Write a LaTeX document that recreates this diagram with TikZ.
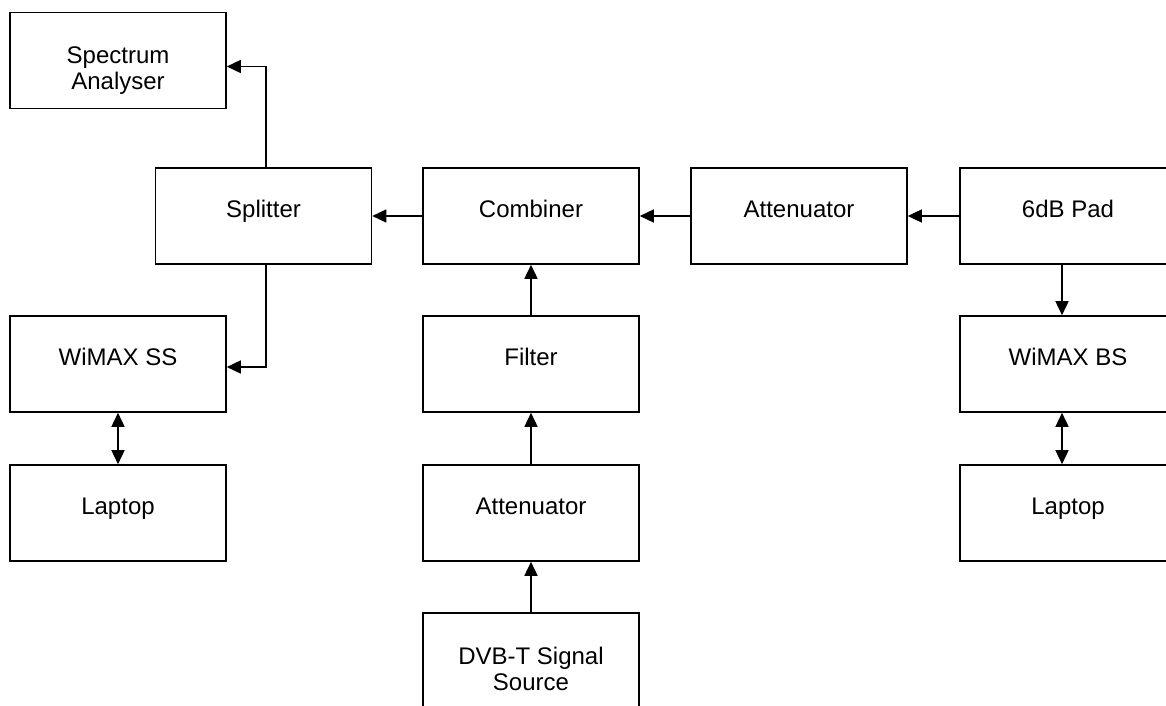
\documentclass[tikz,border=0pt]{standalone}
\usepackage{fontspec}
\setmainfont{Liberation Sans}
\usetikzlibrary{arrows.meta}
\newcommand{\twoline}[2]{\begin{tabular}[t]{@{}c@{}}#1\\#2\end{tabular}}
\begin{document}
\begin{tikzpicture}[x=1pt,y=-1pt,
  box/.style={draw, line width=1.6pt, minimum width=216pt, minimum height=96pt,
    inner sep=0pt, font=\fontsize{24}{26}\selectfont,
    text height=11pt, text depth=9pt},
  boxtwo/.style={box, text height=20pt, text depth=14pt},
  conn/.style={line width=1.6pt, -{Triangle[length=14pt,width=13pt]}},
  both/.style={line width=1.6pt, {Triangle[length=14pt,width=13pt]}-{Triangle[length=14pt,width=13pt]}}]
\clip (0,0) rectangle (1166,706);
\useasboundingbox (0,0) rectangle (1166,706);
\node[boxtwo] (spec) at (118,60.5) {\twoline{Spectrum}{Analyser}};
\node[box] (split) at (263.5,216) {Splitter};
\node[box] (comb) at (531,216) {Combiner};
\node[box] (attT) at (799,216) {Attenuator};
\node[box] (pad) at (1068,216) {6dB Pad};
\node[box] (ss) at (118,364) {WiMAX SS};
\node[box] (filt) at (531,364) {Filter};
\node[box] (bs) at (1068,364) {WiMAX BS};
\node[box] (lapL) at (118,513) {Laptop};
\node[box] (attB) at (531,513) {Attenuator};
\node[box] (lapR) at (1068,513) {Laptop};
\node[boxtwo] (dvb) at (531,661) {\twoline{DVB-T Signal}{Source}};
\draw[conn] ([xshift=2.5pt]split.north) |- ([yshift=-6pt]spec.east);
\draw[conn] ([xshift=2.5pt]split.south) |- ([yshift=-3pt]ss.east);
\draw[conn] (comb) -- (split);
\draw[conn] (attT) -- (comb);
\draw[conn] (pad) -- (attT);
\draw[conn] (filt) -- (comb);
\draw[conn] (attB) -- (filt);
\draw[conn] (dvb) -- (attB);
\draw[conn] ([xshift=-6pt]pad.south) -- ([xshift=-6pt]bs.north);
\draw[both] (ss) -- (lapL);
\draw[both] ([xshift=-6pt]bs.south) -- ([xshift=-6pt]lapR.north);
\end{tikzpicture}
\end{document}
